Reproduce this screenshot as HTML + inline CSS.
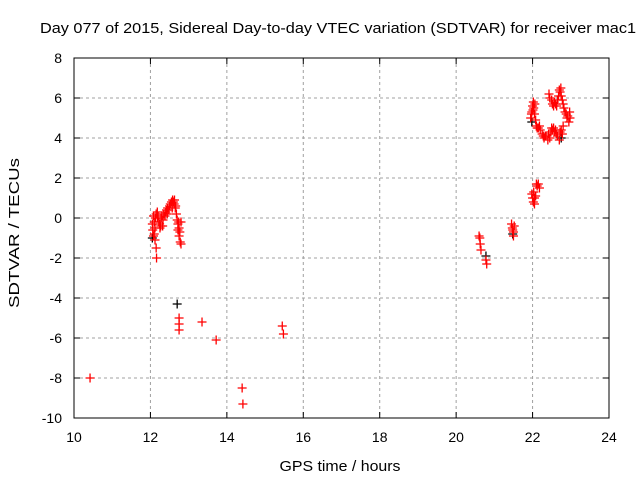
<!DOCTYPE html>
<html><head><meta charset="utf-8"><style>
body{margin:0;background:#fff;width:640px;height:480px;overflow:hidden}
svg{font-family:"Liberation Sans",sans-serif}
</style></head><body>
<svg id="c" width="640" height="480">
<text x="338" y="33" text-anchor="middle" font-size="15" textLength="596" lengthAdjust="spacingAndGlyphs">Day 077 of 2015, Sidereal Day-to-day VTEC variation (SDTVAR) for receiver mac1</text>
<text x="340" y="471" text-anchor="middle" font-size="15" textLength="121" lengthAdjust="spacingAndGlyphs">GPS time / hours</text>
<text transform="translate(19,233) rotate(-90)" text-anchor="middle" font-size="15" textLength="150" lengthAdjust="spacingAndGlyphs">SDTVAR / TECUs</text>
<g id="grid"></g>
<g id="ticks"></g>
<g id="pts"></g>
<rect x="74" y="58" width="535" height="360" fill="none" stroke="#000" stroke-width="1"/>
</svg>
<script>
const xTicks=[10,12,14,16,18,20,22,24];
const yTicks=[8,6,4,2,0,-2,-4,-6,-8,-10];
const redX=[10.42,12.05,12.06,12.08,12.08,12.1,12.1,12.12,12.12,12.13,12.15,12.15,12.16,12.18,12.18,12.2,12.22,12.24,12.25,12.27,12.28,12.3,12.32,12.33,12.35,12.38,12.4,12.42,12.44,12.45,12.48,12.5,12.52,12.55,12.57,12.58,12.6,12.62,12.63,12.65,12.66,12.68,12.7,12.72,12.72,12.74,12.75,12.75,12.77,12.78,12.8,12.8,12.75,12.75,12.75,13.35,13.72,14.4,14.42,15.45,15.48,
20.6,20.62,20.63,20.65,20.78,20.8,21.45,21.47,21.48,21.5,21.5,21.52,
21.98,22.0,22.02,22.03,22.05,22.05,22.08,22.1,22.12,22.15,22.18,
21.95,21.97,21.98,22.0,22.01,22.02,22.03,22.05,22.06,22.08,22.1,22.12,22.15,22.18,22.2,22.25,22.28,22.3,22.33,22.35,22.4,22.42,22.45,22.48,22.5,22.52,22.55,22.58,22.6,22.62,22.65,22.7,22.72,22.75,22.8,22.78,
22.43,22.45,22.5,22.52,22.55,22.57,22.6,22.63,22.65,22.68,22.7,22.72,22.74,22.75,22.78,22.8,22.82,22.85,22.88,22.9,22.92,22.95,22.98,22.97];
const redY=[-8.0,-0.3,-0.6,0.1,-0.9,-0.8,-0.2,-0.5,-1.1,0.0,0.2,-1.5,-2.0,0.3,0.0,0.1,-0.2,-0.3,-0.5,-0.4,0.0,0.1,-0.4,-0.1,0.2,0.1,0.3,0.4,0.2,0.5,0.4,0.6,0.7,0.8,0.5,0.9,0.8,0.7,0.9,0.5,0.6,0.2,-0.1,-0.3,-0.6,-0.2,-0.5,-0.9,-0.7,-1.2,-1.3,-0.2,-5.0,-5.3,-5.6,-5.2,-6.1,-8.5,-9.3,-5.4,-5.8,
-0.9,-1.0,-1.3,-1.6,-2.1,-2.3,-0.3,-0.5,-0.6,-0.7,-0.9,-0.4,
1.2,1.0,0.8,1.3,1.0,0.7,1.1,1.7,1.6,1.7,1.5,
5.0,5.2,5.3,5.6,5.4,5.8,5.5,5.2,5.7,4.9,4.6,4.5,4.5,4.6,4.4,4.2,4.1,4.0,4.1,4.1,3.9,4.2,4.0,4.3,4.5,4.4,4.5,4.3,4.4,4.2,4.1,3.9,4.3,4.4,4.6,4.2,
6.2,6.0,5.9,5.7,5.6,5.8,5.7,5.6,5.9,6.1,6.4,6.3,6.5,6.1,5.9,5.7,5.5,5.3,5.2,5.0,5.1,4.8,5.0,5.3];
const blackX=[12.05,12.7,20.78,21.48,21.98,22.75];
const blackY=[-1.0,-4.3,-1.9,-0.8,4.8,4.0];
const X0=74,X1=609,Y0=58,Y1=418;
const sx=v=>X0+(v-10)/14*(X1-X0);
const sy=v=>Y0+(8-v)/18*(Y1-Y0);
const NS="http://www.w3.org/2000/svg";
const grid=document.getElementById('grid'),ticks=document.getElementById('ticks'),pts=document.getElementById('pts');
function mk(t,a,p){const e=document.createElementNS(NS,t);for(const k in a)e.setAttribute(k,a[k]);p.appendChild(e);return e;}
xTicks.forEach(v=>{const x=sx(v);
 if(v>10&&v<24){const g=mk('line',{x1:x,x2:x,y1:Y0,y2:Y1,stroke:'#a0a0a0','stroke-dasharray':'3,3'},grid);
 
 }
 mk('line',{x1:x,x2:x,y1:Y1,y2:Y1-6,stroke:'#000'},ticks);mk('line',{x1:x,x2:x,y1:Y0,y2:Y0+6,stroke:'#000'},ticks);
 const t=mk('text',{x:x,y:Y1+24,'text-anchor':'middle','font-size':'14'},ticks);t.textContent=v;
 
 });
yTicks.forEach(v=>{const y=sy(v);
 if(v<8&&v>-10){const g=mk('line',{x1:X0,x2:X1,y1:y,y2:y,stroke:'#a0a0a0','stroke-dasharray':'3,3'},grid);
 
 }
 mk('line',{x1:X0,x2:X0+6,y1:y,y2:y,stroke:'#000'},ticks);mk('line',{x1:X1,x2:X1-6,y1:y,y2:y,stroke:'#000'},ticks);
 const t=mk('text',{x:X0-12,y:y+5,'text-anchor':'end','font-size':'14'},ticks);t.textContent=v;
 
 });
function plus(x,y,c,name){const g=mk('path',{d:`M${x-4.5},${y}h9M${x},${y-4.5}v9`,stroke:c,'stroke-width':'1.3',fill:'none'},pts);
 
 }
blackX.forEach((v,i)=>plus(sx(v),sy(blackY[i]),'#000','black-point'));
redX.forEach((v,i)=>plus(sx(v),sy(redY[i]),'#f00','red-point'));
</script>
</body></html>
